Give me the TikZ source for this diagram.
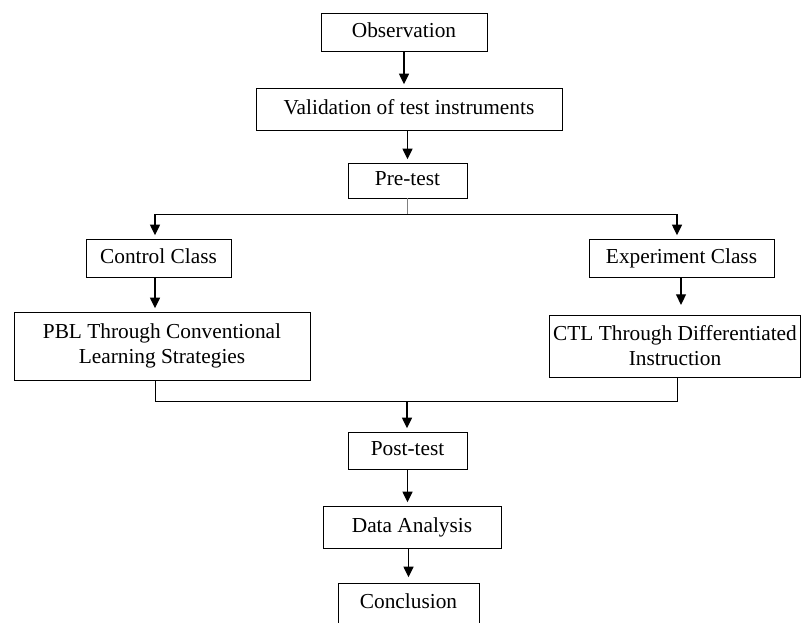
\documentclass[tikz,border=0pt]{standalone}
\usepackage{fontspec}
\setmainfont{Liberation Serif}
\usepackage{tikz}
\usetikzlibrary{arrows.meta, positioning}

\begin{document}
\begin{tikzpicture}[
  x=0.75pt, y=-0.75pt,
  box/.style = {rectangle, draw, line width=0.6pt, align=center, inner sep=0pt, font=\fontsize{16}{18.75}\selectfont},
  oneline/.style = {text height=11.5pt, text depth=3.5pt},
  >={Triangle[width=7.5pt,length=8pt]},
  arrow/.style = {->, line width=1pt, shorten >=2.5pt},
  link/.style = {line width=0.6pt}
  ]
  \useasboundingbox (0,0) rectangle (802,622);

  % Boxes
  \node[box, oneline, minimum width=124.5pt, minimum height=28.5pt] (obs) at (404,32) {Observation};
  \node[box, oneline, minimum width=229.5pt, minimum height=31.5pt] (valid) at (409,109) {Validation of test instruments};
  \node[box, oneline, minimum width=89.25pt, minimum height=26.25pt] (pre) at (407.5,180.5) {Pre-test};
  \node[box, oneline, minimum width=108.75pt, minimum height=28.5pt] (ctrl) at (158.5,258) {Control Class};
  \node[box, oneline, minimum width=138.75pt, minimum height=28.5pt] (exp) at (681.5,258) {Experiment Class};
  \node[box, minimum width=222pt, minimum height=51pt] (pbl) at (162,346) {PBL Through Conventional\\Learning Strategies};
  \node[box, minimum width=188.25pt, minimum height=46.5pt] (ctl) at (675,346) {CTL Through Differentiated\\Instruction};
  \node[box, oneline, minimum width=89.25pt, minimum height=27.75pt] (post) at (407.5,450.5) {Post-test};
  \node[box, oneline, minimum width=133.5pt, minimum height=31.5pt] (data) at (412,527) {Data Analysis};
  \node[box, text height=11.5pt, text depth=11.5pt, minimum width=105.75pt, minimum height=37.5pt] (concl) at (408.5,608) {Conclusion};

  \coordinate (split) at (407.5,214);
  \coordinate (splitL) at (155,214);
  \coordinate (splitR) at (677,214);
  \coordinate (join) at (407,401);
  \coordinate (joinL) at (155,401);
  \coordinate (joinR) at (677,401);

  % Connections
  \draw[arrow] (obs) -- (obs |- valid.north);
  \draw[arrow] (pre.north |- valid.south) -- (pre.north);
  \draw[gray, line width=0.6pt] (pre.south) -- (split);
  \draw[link] (splitL) -- (splitR);
  \draw[arrow] (splitL) -- (splitL |- ctrl.north);
  \draw[arrow] (splitR) -- (splitR |- exp.north);
  \draw[arrow] (ctrl.south -| splitL) -- (splitL |- pbl.north);
  \draw[arrow, shorten >=5pt] (exp.south -| 681,0) -- (pbl.north -| 681,0);
  \draw[link] (pbl.south -| joinL) -- (joinL) -- (joinR) -- (ctl.south -| joinR);
  \draw[arrow] (join) -- (join |- post.north);
  \draw[arrow] (post.south) -- (post.south |- data.north);
  \draw[arrow, shorten >=4pt] (concl.north |- data.south) -- (concl.north);

\end{tikzpicture}
\end{document}
